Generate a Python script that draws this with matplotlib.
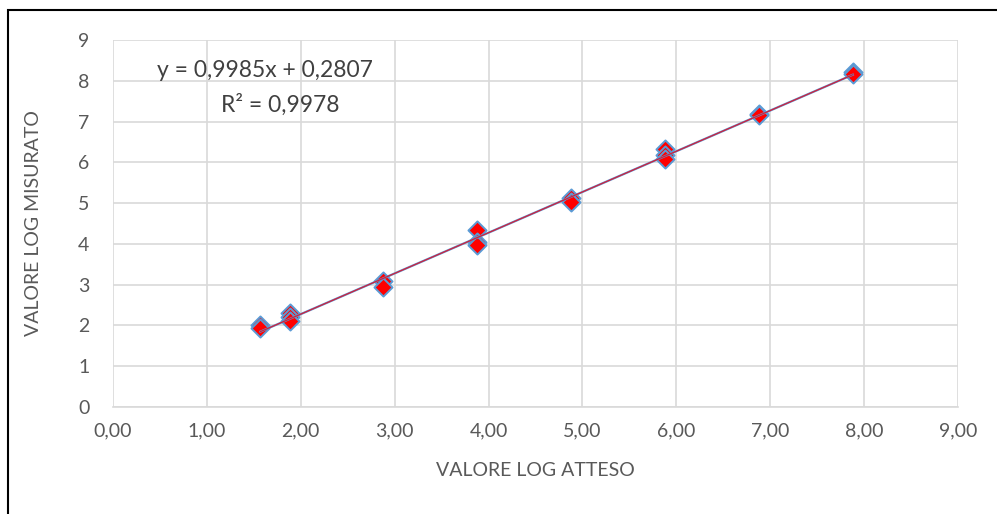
import numpy as np
import matplotlib.pyplot as plt
from matplotlib.patches import Rectangle

W = 997
H = 514

# measured vs expected log values
atteso = [1.57, 1.57, 1.88, 1.88, 1.88, 2.88, 2.88, 3.88, 3.88, 3.88,
          4.88, 4.88, 5.88, 5.88, 5.88, 6.88, 6.88, 7.88, 7.88]
misurato = [2.00, 1.93, 2.30, 2.20, 2.10, 3.10, 2.95, 4.35, 4.05, 3.97,
            5.12, 5.03, 6.32, 6.17, 6.08, 7.19, 7.15, 8.21, 8.17]
slope = 0.9985
intercept = 0.2807
eq_text = "y = 0,9985x + 0,2807"
r2_text = "R² = 0,9978"

xticks = np.arange(0, 10)
yticks = np.arange(0, 10)

plt.rcParams['font.family'] = ['Lato', 'DejaVu Sans']

fig = plt.figure(figsize=(W / 100, H / 100), dpi=100)
ax = fig.add_axes([113 / W, 1 - 407 / H, (958 - 113) / W, (407 - 40) / H])

ax.scatter(atteso, misurato, marker='D', s=85, facecolor='#FF0000',
           edgecolor='#5B9BD5', linewidth=1.4, zorder=3)

xs = np.array([min(atteso), max(atteso)])
ax.plot(xs, slope * xs + intercept, color='#5B9BD5', lw=1.6, zorder=4)
ax.plot(xs, slope * xs + intercept, color='#D0203A', lw=0.9, zorder=5)

ax.set_xlim(0, 9)
ax.set_ylim(0, 9)
ax.set_xticks(xticks)
ax.set_xticklabels([("%.2f" % v).replace('.', ',') for v in xticks])
ax.set_yticks(yticks)
ax.set_yticklabels([str(v) for v in yticks])
ax.tick_params(length=0, colors='#595959', labelsize=14)
ax.tick_params(axis='x', pad=11)
ax.tick_params(axis='y', pad=17)
ax.grid(True, color='#D9D9D9', lw=1.2)
ax.set_axisbelow(True)
for s in ['top', 'right', 'left']:
    ax.spines[s].set_visible(False)
ax.spines['bottom'].set_color('#D9D9D9')
ax.spines['bottom'].set_linewidth(1.2)

ax.set_xlabel('VALORE LOG ATTESO', fontsize=14, color='#595959', labelpad=16)
ax.set_ylabel('VALORE LOG MISURATO', fontsize=14, color='#595959', labelpad=26)

ax.text(1.62, 8.25, eq_text, fontsize=16.5, color='#404040', ha='center', va='center')
ax.text(1.78, 7.4, r2_text, fontsize=16.5, color='#404040', ha='center', va='center')

# outer chart border
fig.patches.append(Rectangle((8 / W, -0.1), 1.2, 1 - 10 / H + 0.1, transform=fig.transFigure,
                             fill=False, edgecolor='black', lw=1.5))

plt.savefig('out.png', dpi=100)
